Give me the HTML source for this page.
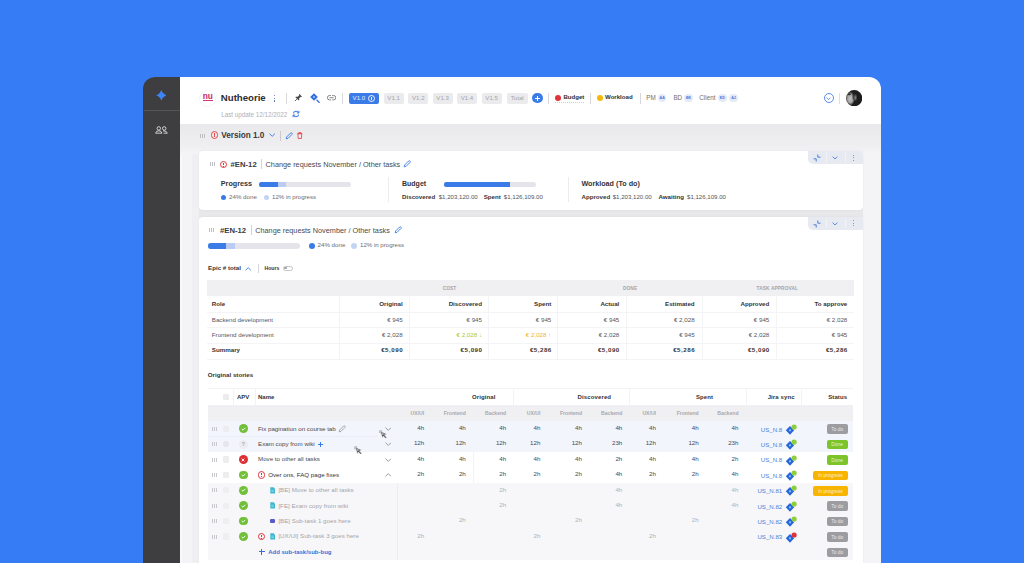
<!DOCTYPE html>
<html><head><meta charset="utf-8"><title>Nutheorie</title>
<style>
html,body{margin:0;padding:0;}
body{width:1024px;height:563px;overflow:hidden;position:relative;background:#367cf5;font-family:"Liberation Sans", Arial, sans-serif;}
.t{position:absolute;white-space:nowrap;}
.r{position:absolute;}
</style></head><body>
<div class="r" style="left:143.5px;top:76.6px;width:737.2px;height:500px;background:#ffffff;border-radius:12px 12px 0 0;"></div>
<div class="r" style="left:143.3px;top:76.6px;width:37px;height:500px;background:#3e3e40;border-radius:12px 0 0 0;"></div>
<div class="r" style="left:143.5px;top:110.3px;width:36.8px;height:1.2px;background:#555558;"></div>
<svg class="r" style="left:155.9px;top:90px" width="10.6" height="10.6" viewBox="0 0 10.6 10.6"><path d="M5.3 0 Q6.5 4.1 10.6 5.3 Q6.5 6.5 5.3 10.6 Q4.1 6.5 0 5.3 Q4.1 4.1 5.3 0Z" fill="#3d84f6"/></svg>
<svg class="r" style="left:155px;top:125.8px" width="13" height="8" viewBox="0 0 13 8"><g fill="none" stroke="#e6e6e6" stroke-width="0.85"><circle cx="3.8" cy="2.4" r="1.75"/><path d="M0.7 7.2 Q0.9 4.8 3.8 4.8 Q6.7 4.8 6.9 7.2Z"/><circle cx="9.2" cy="2.4" r="1.75"/><path d="M8 4.85 Q11.9 4.6 12.3 7.2 H8.6"/></g></svg>
<div class="r" style="left:180.3px;top:123.8px;width:700.4px;height:450px;background:#f4f4f6;"></div>
<div class="r" style="left:192px;top:150px;width:7px;height:420px;background:#f0f0f2;"></div>
<div class="r" style="left:180.3px;top:123.8px;width:2px;height:450px;background:#f8f8fa;"></div>
<div class="r" style="left:180.3px;top:123.8px;width:700.4px;height:30px;background:linear-gradient(#e9e9ec,#eeeef1 65%,#f4f4f6);"></div>
<div class="r" style="left:198.5px;top:89.5px;width:17px;height:17px;border-radius:50%;border:1px solid #f6f6f8;box-sizing:border-box"></div>
<div class="t" style="left:107.7px;width:200px;text-align:center;top:90px;font-size:8.3px;line-height:12px;font-weight:700;color:#c8296a;letter-spacing:-0.2px;">nu</div>
<div class="r" style="left:202.9px;top:99.9px;width:10.2px;height:1.15px;background:#d8337c;"></div>
<div class="t" style="left:220.8px;top:91px;font-size:9.65px;line-height:13px;font-weight:700;color:#2e2e30;">Nutheorie</div>
<div class="r" style="left:274.1px;top:94.75000000000001px;width:1.2px;height:1.2px;background:#4a62a8;border-radius:50%;"></div>
<div class="r" style="left:274.1px;top:97.60000000000001px;width:1.2px;height:1.2px;background:#4a62a8;border-radius:50%;"></div>
<div class="r" style="left:274.1px;top:100.45px;width:1.2px;height:1.2px;background:#4a62a8;border-radius:50%;"></div>
<div class="r" style="left:286.3px;top:92.5px;width:0.8px;height:11px;background:#d8d8dc;"></div>
<svg class="r" style="left:294.3px;top:94.2px" width="8" height="8" viewBox="0 0 8 8"><g transform="rotate(45 4 4)"><path d="M2.3 0.2 H5.7 V1.1 H5.1 V3.4 L6.4 4.7 V5.3 H1.6 V4.7 L2.9 3.4 V1.1 H2.3Z" fill="#4a4a4e"/><path d="M4 5.3 V8.3" stroke="#4a4a4e" stroke-width="0.8"/></g></svg>
<svg class="r" style="left:309.6px;top:92.8px" width="11" height="11" viewBox="0 0 11 11"><path d="M4 0.2 L7.8 4 L4 7.8 L0.2 4Z" fill="#2f6de0"/><circle cx="4" cy="4" r="1.1" fill="#9cc0ff"/><path d="M6.8 7 L9.3 9.5" stroke="#2f6de0" stroke-width="1.1" stroke-linecap="round"/></svg>
<svg class="r" style="left:326.8px;top:95.4px" width="9.2" height="5.6" viewBox="0 0 9.2 5.6"><path d="M3.6 0.5 H2.6 A2.1 2.1 0 0 0 2.6 4.9 H3.6 M5.6 0.5 H6.6 A2.1 2.1 0 0 1 6.6 4.9 H5.6 M2.9 2.7 H6.3" fill="none" stroke="#7d7d82" stroke-width="0.95" stroke-linecap="round"/></svg>
<div class="r" style="left:342.2px;top:92.5px;width:0.8px;height:11px;background:#d8d8dc;"></div>
<div class="r" style="left:348.6px;top:93px;width:30.4px;height:10.8px;background:#3a7be8;border-radius:2px;"></div>
<div class="t" style="left:352.6px;top:93px;font-size:6.1px;line-height:9px;font-weight:400;color:#e6eeff;">V1.0</div>
<div class="r" style="left:367.6px;top:94.5px;width:7px;height:7px;border-radius:50%;border:0.85px solid #eef3ff;box-sizing:border-box"></div>
<div class="r" style="left:370.7px;top:96.6px;width:0.8px;height:3px;background:#eef3ff;"></div>
<div class="r" style="left:383.6px;top:93px;width:20px;height:10.8px;background:#ebebee;border-radius:2px;"></div>
<div class="t" style="left:293.6px;width:200px;text-align:center;top:93px;font-size:6.1px;line-height:9px;font-weight:400;color:#a4a4aa;">V1.1</div>
<div class="r" style="left:408.3px;top:93px;width:20px;height:10.8px;background:#ebebee;border-radius:2px;"></div>
<div class="t" style="left:318.3px;width:200px;text-align:center;top:93px;font-size:6.1px;line-height:9px;font-weight:400;color:#a4a4aa;">V1.2</div>
<div class="r" style="left:432.6px;top:93px;width:20px;height:10.8px;background:#ebebee;border-radius:2px;"></div>
<div class="t" style="left:342.6px;width:200px;text-align:center;top:93px;font-size:6.1px;line-height:9px;font-weight:400;color:#a4a4aa;">V1.3</div>
<div class="r" style="left:457px;top:93px;width:20px;height:10.8px;background:#ebebee;border-radius:2px;"></div>
<div class="t" style="left:367px;width:200px;text-align:center;top:93px;font-size:6.1px;line-height:9px;font-weight:400;color:#a4a4aa;">V1.4</div>
<div class="r" style="left:481.6px;top:93px;width:20px;height:10.8px;background:#ebebee;border-radius:2px;"></div>
<div class="t" style="left:391.6px;width:200px;text-align:center;top:93px;font-size:6.1px;line-height:9px;font-weight:400;color:#a4a4aa;">V1.5</div>
<div class="r" style="left:506.5px;top:93px;width:21.5px;height:10.8px;background:#ebebee;border-radius:2px;"></div>
<div class="t" style="left:417.25px;width:200px;text-align:center;top:93px;font-size:6.1px;line-height:9px;font-weight:400;color:#a4a4aa;">Total</div>
<div class="r" style="left:532.15px;top:92.9px;width:10.4px;height:10.4px;border-radius:50%;background:#3a7be8"></div>
<div class="r" style="left:534.85px;top:97.6px;width:5px;height:1px;background:#fff;"></div>
<div class="r" style="left:536.85px;top:95.6px;width:1px;height:5px;background:#fff;"></div>
<div class="r" style="left:548.4px;top:92.5px;width:0.8px;height:11px;background:#d8d8dc;"></div>
<div class="r" style="left:554.6px;top:94.6px;width:6.4px;height:6.4px;border-radius:50%;background:#e0343a"></div>
<div class="t" style="left:563.4px;top:92px;font-size:6.1px;line-height:9px;font-weight:700;color:#2e2e30;">Budget</div>
<div class="r" style="left:555px;top:101.8px;width:29px;height:0;border-top:0.8px dotted #cfcfd4"></div>
<div class="r" style="left:590.2px;top:92.5px;width:0.8px;height:11px;background:#d8d8dc;"></div>
<div class="r" style="left:596.5px;top:94.6px;width:6.4px;height:6.4px;border-radius:50%;background:#f5b70a"></div>
<div class="t" style="left:605px;top:92px;font-size:6.1px;line-height:9px;font-weight:700;color:#2e2e30;">Workload</div>
<div class="r" style="left:640px;top:92.5px;width:0.8px;height:11px;background:#d8d8dc;"></div>
<div class="t" style="left:646.2px;top:93px;font-size:6.3px;line-height:9px;font-weight:400;color:#6f6f74;">PM</div>
<div class="r" style="left:657.9000000000001px;top:93.5px;width:8.6px;height:8.6px;border-radius:50%;background:#e4ebf8"></div>
<div class="t" style="left:562.2px;width:200px;text-align:center;top:95px;font-size:3.6px;line-height:6px;font-weight:700;color:#3f78dd;">AA</div>
<div class="t" style="left:673.4px;top:93px;font-size:6.3px;line-height:9px;font-weight:400;color:#6f6f74;">BD</div>
<div class="r" style="left:684.2px;top:93.5px;width:8.6px;height:8.6px;border-radius:50%;background:#e4ebf8"></div>
<div class="t" style="left:588.5px;width:200px;text-align:center;top:95px;font-size:3.6px;line-height:6px;font-weight:700;color:#3f78dd;">BK</div>
<div class="t" style="left:699.3px;top:93px;font-size:6.3px;line-height:9px;font-weight:400;color:#6f6f74;">Client</div>
<div class="r" style="left:718.0px;top:93.5px;width:8.6px;height:8.6px;border-radius:50%;background:#e4ebf8"></div>
<div class="t" style="left:622.3px;width:200px;text-align:center;top:95px;font-size:3.6px;line-height:6px;font-weight:700;color:#3f78dd;">ED</div>
<div class="r" style="left:729.2px;top:93.5px;width:8.6px;height:8.6px;border-radius:50%;background:#e4ebf8"></div>
<div class="t" style="left:633.5px;width:200px;text-align:center;top:95px;font-size:3.6px;line-height:6px;font-weight:700;color:#3f78dd;">AJ</div>
<div class="t" style="left:221.2px;top:110px;font-size:6.3px;line-height:9px;font-weight:400;color:#b0b0b5;">Last update 12/12/2022</div>
<svg class="r" style="left:291.6px;top:110px" width="8" height="8" viewBox="0 0 8 8"><path d="M1.3 3.3 A2.9 2.9 0 0 1 6.6 2.7 M6.7 4.7 A2.9 2.9 0 0 1 1.4 5.3" fill="none" stroke="#3a7be8" stroke-width="1.1"/><path d="M6.9 0.8 L6.9 3 L4.8 3" fill="none" stroke="#3a7be8" stroke-width="1"/><path d="M1.1 7.2 L1.1 5 L3.2 5" fill="none" stroke="#3a7be8" stroke-width="1"/></svg>
<div class="r" style="left:823.6px;top:93px;width:10.4px;height:10.4px;border-radius:50%;border:0.9px solid #5b8de8;box-sizing:border-box"></div>
<svg class="r" style="left:826.3px;top:96.6px" width="5" height="3.5" viewBox="0 0 5 3.5"><path d="M0.6 0.6 L2.5 2.6 L4.4 0.6" fill="none" stroke="#5b8de8" stroke-width="0.9"/></svg>
<div class="r" style="left:839.4px;top:92.5px;width:0.8px;height:11px;background:#e0e0e4;"></div>
<svg class="r" style="left:846.1px;top:89.7px" width="16.4" height="16.4" viewBox="0 0 16.4 16.4"><defs><radialGradient id="fa" cx="0.5" cy="0.5" r="0.5"><stop offset="0" stop-color="#c4c4c4"/><stop offset="0.6" stop-color="#a0a0a0"/><stop offset="1" stop-color="#a0a0a0" stop-opacity="0"/></radialGradient><radialGradient id="fb" cx="0.5" cy="0.5" r="0.5"><stop offset="0" stop-color="#8a8a8a"/><stop offset="1" stop-color="#8a8a8a" stop-opacity="0"/></radialGradient><clipPath id="cc"><circle cx="8.2" cy="8.2" r="8.1"/></clipPath></defs><g clip-path="url(#cc)"><rect width="16.4" height="16.4" fill="#1d1d1d"/><ellipse cx="4.3" cy="8.6" rx="4.6" ry="7" fill="url(#fa)"/><ellipse cx="9.4" cy="7.6" rx="2" ry="4" fill="url(#fb)"/><ellipse cx="3.4" cy="4.3" rx="1.5" ry="0.9" fill="#2a2a2a"/><ellipse cx="7.3" cy="6" rx="0.8" ry="4" fill="#2a2a2a" opacity="0.7"/></g></svg>
<div class="r" style="left:200.1px;top:133.5px;width:0.8px;height:4.0px;background:#bdbdc2;"></div>
<div class="r" style="left:201.9px;top:133.5px;width:0.8px;height:4.0px;background:#bdbdc2;"></div>
<div class="r" style="left:203.7px;top:133.5px;width:0.8px;height:4.0px;background:#bdbdc2;"></div>
<div class="r" style="left:210.7px;top:131.39999999999998px;width:7.6px;height:7.6px;border-radius:50%;border:0.85px solid #e2444c;box-sizing:border-box"></div>
<div class="r" style="left:214.1px;top:133.29999999999998px;width:0.8px;height:2.28px;background:#e2444c;"></div>
<div class="r" style="left:214.1px;top:136.26399999999998px;width:0.8px;height:0.8px;background:#e2444c;"></div>
<div class="t" style="left:221.2px;top:130px;font-size:8.2px;line-height:11px;font-weight:700;color:#3a3a3e;">Version 1.0</div>
<svg class="r" style="left:268.9px;top:133.3px" width="6.4" height="4" viewBox="0 0 6.4 4"><path d="M0.5 0.7 L3.2 3.3 L5.9 0.7" fill="none" stroke="#3a7be8" stroke-width="0.95"/></svg>
<div class="r" style="left:280.3px;top:130.5px;width:0.8px;height:10px;background:#c9c9ce;"></div>
<svg class="r" style="left:284.5px;top:131.5px" width="8" height="8" viewBox="0 0 8 8"><path d="M1.2 6.8 L1.6 5 L5.6 1 A0.9 0.9 0 0 1 6.9 1 L7 1.1 A0.9 0.9 0 0 1 7 2.4 L3 6.4Z" fill="none" stroke="#3a7be8" stroke-width="0.9" stroke-linejoin="round"/></svg>
<svg class="r" style="left:297.4px;top:132px" width="5.6" height="7" viewBox="0 0 5.6 7"><path d="M0.3 1.4 H5.3 M1.9 1.4 V0.45 H3.7 V1.4 M0.9 1.8 L1.2 6.5 H4.4 L4.7 1.8Z" fill="none" stroke="#e2444c" stroke-width="0.85" stroke-linejoin="round"/></svg>
<div class="r" style="left:199px;top:208px;width:664px;height:10px;background:#e8e8eb;"></div>
<div class="r" style="left:199px;top:150.8px;width:664px;height:58.8px;background:#ffffff;border-radius:4px;box-shadow:0 0 3px rgba(0,0,0,0.05);"></div>
<div class="r" style="left:199px;top:216.5px;width:664px;height:400px;background:#ffffff;border-radius:4px;box-shadow:0 0 3px rgba(0,0,0,0.05);"></div>
<div class="r" style="left:807.5px;top:150.8px;width:55.5px;height:13.7px;background:#e8eaf1;border-radius:0 4px 0 5px"></div>
<div class="r" style="left:826px;top:152.8px;width:0.7px;height:9.7px;background:#f3f4f8;"></div>
<div class="r" style="left:844.8px;top:152.8px;width:0.7px;height:9.7px;background:#f3f4f8;"></div>
<svg class="r" style="left:812.5px;top:153.8px" width="8" height="8" viewBox="0 0 8 8"><path d="M0.5 4.8 L3.2 4.8 L3.2 7.5 M7.5 3.2 L4.8 3.2 L4.8 0.5" fill="none" stroke="#4a7fe0" stroke-width="1"/></svg>
<svg class="r" style="left:832px;top:156.10000000000002px" width="6" height="3.8" viewBox="0 0 6 3.8"><path d="M0.6 0.6 L3 3 L5.4 0.6" fill="none" stroke="#4a7fe0" stroke-width="0.9"/></svg>
<div class="r" style="left:852.8px;top:154.65px;width:1.0px;height:1.0px;background:#5f7fc6;border-radius:50%;"></div>
<div class="r" style="left:852.8px;top:157.15px;width:1.0px;height:1.0px;background:#5f7fc6;border-radius:50%;"></div>
<div class="r" style="left:852.8px;top:159.65px;width:1.0px;height:1.0px;background:#5f7fc6;border-radius:50%;"></div>
<div class="r" style="left:807.5px;top:216.5px;width:55.5px;height:13.7px;background:#e8eaf1;border-radius:0 4px 0 5px"></div>
<div class="r" style="left:826px;top:218.5px;width:0.7px;height:9.7px;background:#f3f4f8;"></div>
<div class="r" style="left:844.8px;top:218.5px;width:0.7px;height:9.7px;background:#f3f4f8;"></div>
<svg class="r" style="left:812.5px;top:219.5px" width="8" height="8" viewBox="0 0 8 8"><path d="M0.5 4.8 L3.2 4.8 L3.2 7.5 M7.5 3.2 L4.8 3.2 L4.8 0.5" fill="none" stroke="#4a7fe0" stroke-width="1"/></svg>
<svg class="r" style="left:832px;top:221.8px" width="6" height="3.8" viewBox="0 0 6 3.8"><path d="M0.6 0.6 L3 3 L5.4 0.6" fill="none" stroke="#4a7fe0" stroke-width="0.9"/></svg>
<div class="r" style="left:852.8px;top:220.35px;width:1.0px;height:1.0px;background:#5f7fc6;border-radius:50%;"></div>
<div class="r" style="left:852.8px;top:222.85px;width:1.0px;height:1.0px;background:#5f7fc6;border-radius:50%;"></div>
<div class="r" style="left:852.8px;top:225.35px;width:1.0px;height:1.0px;background:#5f7fc6;border-radius:50%;"></div>
<div class="r" style="left:210.1px;top:162.4px;width:0.8px;height:4.0px;background:#bdbdc2;"></div>
<div class="r" style="left:211.9px;top:162.4px;width:0.8px;height:4.0px;background:#bdbdc2;"></div>
<div class="r" style="left:213.7px;top:162.4px;width:0.8px;height:4.0px;background:#bdbdc2;"></div>
<div class="r" style="left:220.15px;top:161.1px;width:7.2px;height:7.2px;border-radius:50%;border:0.85px solid #e0343a;box-sizing:border-box"></div>
<div class="r" style="left:223.35px;top:162.89999999999998px;width:0.8px;height:2.16px;background:#e0343a;"></div>
<div class="r" style="left:223.35px;top:165.708px;width:0.8px;height:0.8px;background:#e0343a;"></div>
<div class="t" style="left:230.6px;top:159px;font-size:7.7px;line-height:11px;font-weight:700;color:#3a3a3e;">#EN-12</div>
<div class="r" style="left:261.4px;top:159.3px;width:0.8px;height:10px;background:#d4d4d8;"></div>
<div class="t" style="left:265.6px;top:159px;font-size:7.3px;line-height:11px;font-weight:400;color:#4a4a50;">Change requests November / Other tasks</div>
<svg class="r" style="left:402.6px;top:160.2px" width="8" height="8" viewBox="0 0 8 8"><path d="M1.2 6.8 L1.6 5 L5.6 1 A0.9 0.9 0 0 1 6.9 1 L7 1.1 A0.9 0.9 0 0 1 7 2.4 L3 6.4Z" fill="none" stroke="#3a7be8" stroke-width="0.9" stroke-linejoin="round"/></svg>
<div class="t" style="left:220.8px;top:178px;font-size:7.2px;line-height:11px;font-weight:700;color:#333336;">Progress</div>
<div class="r" style="left:259px;top:181.5px;width:92px;height:5.4px;background:#e4e4ea;border-radius:2.7px;"></div>
<div class="r" style="left:259px;top:181.5px;width:27.4px;height:5.4px;background:#bccbf1;border-radius:2.7px 0 0 2.7px;"></div>
<div class="r" style="left:259px;top:181.5px;width:18.8px;height:5.4px;background:#3a7be8;border-radius:2.7px 0 0 2.7px;"></div>
<div class="r" style="left:220.79999999999998px;top:194.7px;width:5.6px;height:5.6px;border-radius:50%;background:#3a7be8"></div>
<div class="t" style="left:229px;top:192px;font-size:6.2px;line-height:9px;font-weight:400;color:#6c6c72;">24% done</div>
<div class="r" style="left:263.8px;top:194.7px;width:5.6px;height:5.6px;border-radius:50%;background:#c3d3f3"></div>
<div class="t" style="left:272px;top:192px;font-size:6.1px;line-height:9px;font-weight:400;color:#6c6c72;">12% in progress</div>
<div class="r" style="left:388px;top:177px;width:0.8px;height:25px;background:#ececf0;"></div>
<div class="t" style="left:402px;top:179px;font-size:7.0px;line-height:9px;font-weight:700;color:#333336;">Budget</div>
<div class="r" style="left:444px;top:181.5px;width:92px;height:5.4px;background:#e4e4ea;border-radius:2.7px;"></div>
<div class="r" style="left:444px;top:181.5px;width:65.6px;height:5.4px;background:#bccbf1;border-radius:2.7px 0 0 2.7px;"></div>
<div class="r" style="left:444px;top:181.5px;width:65.6px;height:5.4px;background:#3a7be8;border-radius:2.7px 0 0 2.7px;"></div>
<div class="t" style="left:402.1px;top:192px;font-size:6.15px;line-height:9px;font-weight:700;color:#333336;">Discovered</div>
<div class="t" style="left:438.7px;top:192px;font-size:6.1px;line-height:9px;font-weight:400;color:#55555b;">$1,203,120.00</div>
<div class="t" style="left:483.7px;top:192px;font-size:6.15px;line-height:9px;font-weight:700;color:#333336;">Spent</div>
<div class="t" style="left:503.8px;top:192px;font-size:6.1px;line-height:9px;font-weight:400;color:#55555b;">$1,126,109.00</div>
<div class="r" style="left:568.4px;top:177px;width:0.8px;height:25px;background:#ececf0;"></div>
<div class="t" style="left:581.4px;top:178px;font-size:7.2px;line-height:11px;font-weight:700;color:#333336;">Workload (To do)</div>
<div class="t" style="left:581.5px;top:192px;font-size:6.15px;line-height:9px;font-weight:700;color:#333336;">Approved</div>
<div class="t" style="left:612.7px;top:192px;font-size:6.1px;line-height:9px;font-weight:400;color:#55555b;">$1,203,120.00</div>
<div class="t" style="left:658.5px;top:192px;font-size:6.15px;line-height:9px;font-weight:700;color:#333336;">Awaiting</div>
<div class="t" style="left:687px;top:192px;font-size:6.1px;line-height:9px;font-weight:400;color:#55555b;">$1,126,109.00</div>
<div class="r" style="left:209.1px;top:228.2px;width:0.8px;height:4.0px;background:#bdbdc2;"></div>
<div class="r" style="left:210.9px;top:228.2px;width:0.8px;height:4.0px;background:#bdbdc2;"></div>
<div class="r" style="left:212.7px;top:228.2px;width:0.8px;height:4.0px;background:#bdbdc2;"></div>
<div class="t" style="left:220px;top:225px;font-size:7.7px;line-height:11px;font-weight:700;color:#3a3a3e;">#EN-12</div>
<div class="r" style="left:250.7px;top:225.2px;width:0.8px;height:10px;background:#d4d4d8;"></div>
<div class="t" style="left:255.2px;top:225px;font-size:7.3px;line-height:11px;font-weight:400;color:#4a4a50;">Change requests November / Other tasks</div>
<svg class="r" style="left:393.6px;top:226px" width="8" height="8" viewBox="0 0 8 8"><path d="M1.2 6.8 L1.6 5 L5.6 1 A0.9 0.9 0 0 1 6.9 1 L7 1.1 A0.9 0.9 0 0 1 7 2.4 L3 6.4Z" fill="none" stroke="#3a7be8" stroke-width="0.9" stroke-linejoin="round"/></svg>
<div class="r" style="left:207.5px;top:242.8px;width:92px;height:5.8px;background:#e4e4ea;border-radius:2.9px;"></div>
<div class="r" style="left:207.5px;top:242.8px;width:27.3px;height:5.8px;background:#bccbf1;border-radius:2.9px 0 0 2.9px;"></div>
<div class="r" style="left:207.5px;top:242.8px;width:18.7px;height:5.8px;background:#3a7be8;border-radius:2.9px 0 0 2.9px;"></div>
<div class="r" style="left:308.7px;top:242.6px;width:6px;height:6px;border-radius:50%;background:#3a7be8"></div>
<div class="t" style="left:317.5px;top:240px;font-size:6.2px;line-height:9px;font-weight:400;color:#6c6c72;">24% done</div>
<div class="r" style="left:351.2px;top:242.6px;width:6px;height:6px;border-radius:50%;background:#c3d3f3"></div>
<div class="t" style="left:360px;top:240px;font-size:6.1px;line-height:9px;font-weight:400;color:#6c6c72;">12% in progress</div>
<div class="t" style="left:208px;top:263px;font-size:6.2px;line-height:9px;font-weight:700;color:#333336;">Epic # total</div>
<svg class="r" style="left:244.9px;top:266.8px" width="6.4" height="4" viewBox="0 0 6.4 4"><path d="M0.5 3.3 L3.2 0.7 L5.9 3.3" fill="none" stroke="#3a7be8" stroke-width="0.9"/></svg>
<div class="r" style="left:258.2px;top:263.5px;width:0.8px;height:9px;background:#d4d4d8;"></div>
<div class="t" style="left:264.4px;top:264px;font-size:5.2px;line-height:8px;font-weight:700;color:#333336;">Hours</div>
<div class="r" style="left:282.7px;top:265.8px;width:10.5px;height:5.2px;border-radius:3px;border:0.8px solid #c4c4c9;box-sizing:border-box"></div>
<div class="r" style="left:284.3px;top:267.1px;width:2.4px;height:2.4px;border-radius:50%;background:#a0a0a6"></div>
<div class="r" style="left:207px;top:280.4px;width:647px;height:15.6px;background:#f0f0f3;"></div>
<div class="t" style="left:349.5px;width:200px;text-align:center;top:285px;font-size:4.8px;line-height:7px;font-weight:700;color:#a4a4aa;letter-spacing:0.1px;">COST</div>
<div class="t" style="left:530.1px;width:200px;text-align:center;top:285px;font-size:4.8px;line-height:7px;font-weight:700;color:#a4a4aa;letter-spacing:0.1px;">DONE</div>
<div class="t" style="left:677.3px;width:200px;text-align:center;top:285px;font-size:4.8px;line-height:7px;font-weight:700;color:#a4a4aa;letter-spacing:0.1px;">TASK APPROVAL</div>
<div class="r" style="left:339px;top:296px;width:0.8px;height:62.6px;background:#f4f4f6;"></div>
<div class="r" style="left:408.5px;top:296px;width:0.8px;height:62.6px;background:#f4f4f6;"></div>
<div class="r" style="left:488px;top:296px;width:0.8px;height:62.6px;background:#f4f4f6;"></div>
<div class="r" style="left:557px;top:296px;width:0.8px;height:62.6px;background:#f4f4f6;"></div>
<div class="r" style="left:626px;top:296px;width:0.8px;height:62.6px;background:#f4f4f6;"></div>
<div class="r" style="left:702px;top:296px;width:0.8px;height:62.6px;background:#f4f4f6;"></div>
<div class="r" style="left:776px;top:296px;width:0.8px;height:62.6px;background:#f4f4f6;"></div>
<div class="r" style="left:207px;top:311.7px;width:647px;height:0.8px;background:#f4f4f6;"></div>
<div class="r" style="left:207px;top:327.1px;width:647px;height:0.8px;background:#f4f4f6;"></div>
<div class="r" style="left:207px;top:342.5px;width:647px;height:0.8px;background:#f4f4f6;"></div>
<div class="r" style="left:207px;top:358.6px;width:647px;height:0.8px;background:#f4f4f6;"></div>
<div class="t" style="left:211.8px;top:299px;font-size:6.2px;line-height:9px;font-weight:700;color:#333336;">Role</div>
<div class="t" style="right:621.4px;top:299px;font-size:6.2px;line-height:9px;font-weight:700;color:#333336;">Original</div>
<div class="t" style="right:542.0px;top:299px;font-size:6.2px;line-height:9px;font-weight:700;color:#333336;">Discovered</div>
<div class="t" style="right:472.7px;top:299px;font-size:6.2px;line-height:9px;font-weight:700;color:#333336;">Spent</div>
<div class="t" style="right:404.7px;top:299px;font-size:6.2px;line-height:9px;font-weight:700;color:#333336;">Actual</div>
<div class="t" style="right:329.4px;top:299px;font-size:6.2px;line-height:9px;font-weight:700;color:#333336;">Estimated</div>
<div class="t" style="right:254.7px;top:299px;font-size:6.2px;line-height:9px;font-weight:700;color:#333336;">Approved</div>
<div class="t" style="right:176.7px;top:299px;font-size:6.2px;line-height:9px;font-weight:700;color:#333336;">To approve</div>
<div class="t" style="left:211.8px;top:315px;font-size:6.2px;line-height:9px;font-weight:400;color:#55555b;">Backend development</div>
<div class="t" style="right:621.4px;top:315px;font-size:6.2px;line-height:9px;font-weight:400;color:#55555b;">€ 945</div>
<div class="t" style="right:542.0px;top:315px;font-size:6.2px;line-height:9px;font-weight:400;color:#55555b;">€ 945</div>
<div class="t" style="right:472.7px;top:315px;font-size:6.2px;line-height:9px;font-weight:400;color:#55555b;">€ 945</div>
<div class="t" style="right:404.7px;top:315px;font-size:6.2px;line-height:9px;font-weight:400;color:#55555b;">€ 945</div>
<div class="t" style="right:329.4px;top:315px;font-size:6.2px;line-height:9px;font-weight:400;color:#55555b;">€ 2,028</div>
<div class="t" style="right:254.7px;top:315px;font-size:6.2px;line-height:9px;font-weight:400;color:#55555b;">€ 945</div>
<div class="t" style="right:176.7px;top:315px;font-size:6.2px;line-height:9px;font-weight:400;color:#55555b;">€ 2,028</div>
<div class="t" style="left:211.8px;top:330px;font-size:6.2px;line-height:9px;font-weight:400;color:#55555b;">Frontend development</div>
<div class="t" style="right:621.4px;top:330px;font-size:6.2px;line-height:9px;font-weight:400;color:#55555b;">€ 2,028</div>
<div class="t" style="right:542.0px;top:330px;font-size:6.2px;line-height:9px;font-weight:400;color:#55555b;"><span style="color:#a8c83a">€ 2,028 ↓</span></div>
<div class="t" style="right:472.7px;top:330px;font-size:6.2px;line-height:9px;font-weight:400;color:#55555b;"><span style="color:#f0b51c">€ 2,028 ↑</span></div>
<div class="t" style="right:404.7px;top:330px;font-size:6.2px;line-height:9px;font-weight:400;color:#55555b;">€ 2,028</div>
<div class="t" style="right:329.4px;top:330px;font-size:6.2px;line-height:9px;font-weight:400;color:#55555b;">€ 945</div>
<div class="t" style="right:254.7px;top:330px;font-size:6.2px;line-height:9px;font-weight:400;color:#55555b;">€ 2,028</div>
<div class="t" style="right:176.7px;top:330px;font-size:6.2px;line-height:9px;font-weight:400;color:#55555b;">€ 945</div>
<div class="t" style="left:211.8px;top:345px;font-size:6.2px;line-height:9px;font-weight:700;color:#333336;">Summary</div>
<div class="t" style="right:620.9px;top:345px;font-size:6.2px;line-height:9px;font-weight:700;color:#333336;letter-spacing:0.5px;">€5,090</div>
<div class="t" style="right:541.5px;top:345px;font-size:6.2px;line-height:9px;font-weight:700;color:#333336;letter-spacing:0.5px;">€5,090</div>
<div class="t" style="right:472.2px;top:345px;font-size:6.2px;line-height:9px;font-weight:700;color:#333336;letter-spacing:0.5px;">€5,286</div>
<div class="t" style="right:404.2px;top:345px;font-size:6.2px;line-height:9px;font-weight:700;color:#333336;letter-spacing:0.5px;">€5,090</div>
<div class="t" style="right:328.9px;top:345px;font-size:6.2px;line-height:9px;font-weight:700;color:#333336;letter-spacing:0.5px;">€5,286</div>
<div class="t" style="right:254.2px;top:345px;font-size:6.2px;line-height:9px;font-weight:700;color:#333336;letter-spacing:0.5px;">€5,090</div>
<div class="t" style="right:176.2px;top:345px;font-size:6.2px;line-height:9px;font-weight:700;color:#333336;letter-spacing:0.5px;">€5,286</div>
<div class="t" style="left:207.8px;top:370px;font-size:6.2px;line-height:9px;font-weight:700;color:#333336;">Original stories</div>
<div class="r" style="left:207.5px;top:388px;width:645.7px;height:0.8px;background:#f3f3f5;"></div>
<div class="r" style="left:207.5px;top:405px;width:645.7px;height:15.8px;background:#f0f0f3;"></div>
<div class="r" style="left:207.5px;top:421px;width:645.7px;height:30.8px;background:#f2f5fc;"></div>
<div class="r" style="left:207.5px;top:436.2px;width:170px;height:0.7px;background:#eaedf7;"></div>
<div class="r" style="left:207.5px;top:482.6px;width:645.7px;height:77.0px;background:#f7f7f9;"></div>
<div class="r" style="left:396.5px;top:482.6px;width:0.7px;height:77.0px;background:#eeeef1;"></div>
<div class="r" style="left:472.8px;top:451.8px;width:0.7px;height:30.8px;background:#f3f3f5;"></div>
<div class="r" style="left:222.8px;top:393.6px;width:6.4px;height:6.4px;background:#ececef;border-radius:1px;"></div>
<div class="t" style="left:237px;top:393px;font-size:6.0px;line-height:8px;font-weight:700;color:#333336;">APV</div>
<div class="t" style="left:258px;top:393px;font-size:6.0px;line-height:8px;font-weight:700;color:#333336;">Name</div>
<div class="t" style="left:383.75px;width:200px;text-align:center;top:393px;font-size:6.0px;line-height:8px;font-weight:700;color:#333336;letter-spacing:0.12px;">Original</div>
<div class="t" style="left:494.4px;width:200px;text-align:center;top:393px;font-size:6.0px;line-height:8px;font-weight:700;color:#333336;letter-spacing:0.12px;">Discovered</div>
<div class="t" style="left:604.6px;width:200px;text-align:center;top:393px;font-size:6.0px;line-height:8px;font-weight:700;color:#333336;letter-spacing:0.12px;">Spent</div>
<div class="t" style="left:681.2px;width:200px;text-align:center;top:393px;font-size:6.0px;line-height:8px;font-weight:700;color:#333336;letter-spacing:0.12px;">Jira sync</div>
<div class="t" style="right:176.8px;top:393px;font-size:6.0px;line-height:8px;font-weight:700;color:#333336;letter-spacing:0.12px;">Status</div>
<div class="r" style="left:233px;top:388px;width:0.7px;height:17px;background:#f3f3f5;"></div>
<div class="r" style="left:254.7px;top:388px;width:0.7px;height:17px;background:#f3f3f5;"></div>
<div class="r" style="left:513px;top:388px;width:0.7px;height:17px;background:#f3f3f5;"></div>
<div class="r" style="left:629px;top:388px;width:0.7px;height:17px;background:#f3f3f5;"></div>
<div class="r" style="left:746px;top:388px;width:0.7px;height:17px;background:#f3f3f5;"></div>
<div class="r" style="left:801px;top:388px;width:0.7px;height:17px;background:#f3f3f5;"></div>
<div class="t" style="right:599.8px;top:409px;font-size:5.1px;line-height:8px;font-weight:700;color:#a8a8ad;">UX/UI</div>
<div class="t" style="right:558.2px;top:409px;font-size:5.1px;line-height:8px;font-weight:700;color:#a8a8ad;">Frontend</div>
<div class="t" style="right:517.8px;top:409px;font-size:5.1px;line-height:8px;font-weight:700;color:#a8a8ad;">Backend</div>
<div class="t" style="right:483.6px;top:409px;font-size:5.1px;line-height:8px;font-weight:700;color:#a8a8ad;">UX/UI</div>
<div class="t" style="right:442px;top:409px;font-size:5.1px;line-height:8px;font-weight:700;color:#a8a8ad;">Frontend</div>
<div class="t" style="right:401.7px;top:409px;font-size:5.1px;line-height:8px;font-weight:700;color:#a8a8ad;">Backend</div>
<div class="t" style="right:368px;top:409px;font-size:5.1px;line-height:8px;font-weight:700;color:#a8a8ad;">UX/UI</div>
<div class="t" style="right:325.3px;top:409px;font-size:5.1px;line-height:8px;font-weight:700;color:#a8a8ad;">Frontend</div>
<div class="t" style="right:285.5px;top:409px;font-size:5.1px;line-height:8px;font-weight:700;color:#a8a8ad;">Backend</div>
<div class="r" style="left:212.1px;top:426.7px;width:0.8px;height:4.0px;background:#c9c9cd;"></div>
<div class="r" style="left:213.9px;top:426.7px;width:0.8px;height:4.0px;background:#c9c9cd;"></div>
<div class="r" style="left:215.7px;top:426.7px;width:0.8px;height:4.0px;background:#c9c9cd;"></div>
<div class="r" style="left:222.8px;top:425.5px;width:6.4px;height:6.4px;background:#ededf0;border-radius:1px;"></div>
<div class="r" style="left:238.9px;top:424.3px;width:8.8px;height:8.8px;border-radius:50%;background:#72c03a"></div>
<svg class="r" style="left:240.8px;top:426.7px" width="5" height="4" viewBox="0 0 5 4"><path d="M0.7 2 L2 3.2 L4.3 0.8" fill="none" stroke="#fff" stroke-width="0.9"/></svg>
<div class="t" style="left:258px;top:424px;font-size:6.2px;line-height:9px;font-weight:400;color:#4a4a4f;">Fix pagination on course tab</div>
<svg class="r" style="left:384.7px;top:426.7px" width="6.6" height="4" viewBox="0 0 6.6 4"><path d="M0.5 0.6 L3.3 3.4 L6.1 0.6" fill="none" stroke="#8a8a90" stroke-width="0.85"/></svg>
<div class="t" style="right:599.8px;top:423px;font-size:6.2px;line-height:9px;font-weight:400;color:#4a4a4f;">4h</div>
<div class="t" style="right:558.2px;top:423px;font-size:6.2px;line-height:9px;font-weight:400;color:#4a4a4f;">4h</div>
<div class="t" style="right:517.8px;top:423px;font-size:6.2px;line-height:9px;font-weight:400;color:#4a4a4f;">4h</div>
<div class="t" style="right:483.6px;top:423px;font-size:6.2px;line-height:9px;font-weight:400;color:#4a4a4f;">4h</div>
<div class="t" style="right:442px;top:423px;font-size:6.2px;line-height:9px;font-weight:400;color:#4a4a4f;">4h</div>
<div class="t" style="right:401.7px;top:423px;font-size:6.2px;line-height:9px;font-weight:400;color:#4a4a4f;">4h</div>
<div class="t" style="right:368px;top:423px;font-size:6.2px;line-height:9px;font-weight:400;color:#4a4a4f;">4h</div>
<div class="t" style="right:325.3px;top:423px;font-size:6.2px;line-height:9px;font-weight:400;color:#4a4a4f;">4h</div>
<div class="t" style="right:285.5px;top:423px;font-size:6.2px;line-height:9px;font-weight:400;color:#4a4a4f;">4h</div>
<div class="t" style="right:241.8px;top:425px;font-size:6.1px;line-height:9px;font-weight:400;color:#4a7ed8;">US_N.8</div>
<svg class="r" style="left:785.3px;top:423.7px" width="12" height="12" viewBox="0 0 12 12"><path d="M5 1.9 L9.2 6.3 L5 10.7 L0.8 6.3Z" fill="#2566d8"/><circle cx="5" cy="6.3" r="1.1" fill="#8ec0ff"/><circle cx="9.1" cy="3" r="2.6" fill="#8ccf3a"/></svg>
<div class="r" style="left:826.5999999999999px;top:424.34999999999997px;width:21.2px;height:9.7px;border-radius:2px;background:#9c9ca1"></div>
<div class="t" style="left:737.2px;width:200px;text-align:center;top:426px;font-size:4.9px;line-height:7px;font-weight:400;color:rgba(255,255,255,0.8);">To do</div>
<div class="r" style="left:212.1px;top:442.1px;width:0.8px;height:4.0px;background:#c9c9cd;"></div>
<div class="r" style="left:213.9px;top:442.1px;width:0.8px;height:4.0px;background:#c9c9cd;"></div>
<div class="r" style="left:215.7px;top:442.1px;width:0.8px;height:4.0px;background:#c9c9cd;"></div>
<div class="r" style="left:222.8px;top:440.90000000000003px;width:6.4px;height:6.4px;background:#e4e6ec;border-radius:50%;"></div>
<div class="r" style="left:238.8px;top:439.6px;width:9px;height:9px;border-radius:50%;background:#ebedf2"></div>
<div class="t" style="left:143.3px;width:200px;text-align:center;top:440px;font-size:5px;line-height:8px;font-weight:700;color:#9da1ab;">?</div>
<div class="t" style="left:258px;top:439px;font-size:6.2px;line-height:9px;font-weight:400;color:#4a4a4f;">Exam copy from wiki</div>
<svg class="r" style="left:384.7px;top:442.1px" width="6.6" height="4" viewBox="0 0 6.6 4"><path d="M0.5 0.6 L3.3 3.4 L6.1 0.6" fill="none" stroke="#8a8a90" stroke-width="0.85"/></svg>
<div class="t" style="right:599.8px;top:438px;font-size:6.2px;line-height:9px;font-weight:400;color:#4a4a4f;">12h</div>
<div class="t" style="right:558.2px;top:438px;font-size:6.2px;line-height:9px;font-weight:400;color:#4a4a4f;">12h</div>
<div class="t" style="right:517.8px;top:438px;font-size:6.2px;line-height:9px;font-weight:400;color:#4a4a4f;">12h</div>
<div class="t" style="right:483.6px;top:438px;font-size:6.2px;line-height:9px;font-weight:400;color:#4a4a4f;">12h</div>
<div class="t" style="right:442px;top:438px;font-size:6.2px;line-height:9px;font-weight:400;color:#4a4a4f;">12h</div>
<div class="t" style="right:401.7px;top:438px;font-size:6.2px;line-height:9px;font-weight:400;color:#4a4a4f;">23h</div>
<div class="t" style="right:368px;top:438px;font-size:6.2px;line-height:9px;font-weight:400;color:#4a4a4f;">12h</div>
<div class="t" style="right:325.3px;top:438px;font-size:6.2px;line-height:9px;font-weight:400;color:#4a4a4f;">12h</div>
<div class="t" style="right:285.5px;top:438px;font-size:6.2px;line-height:9px;font-weight:400;color:#4a4a4f;">23h</div>
<div class="t" style="right:241.8px;top:440px;font-size:6.1px;line-height:9px;font-weight:400;color:#4a7ed8;">US_N.8</div>
<svg class="r" style="left:785.3px;top:439.1px" width="12" height="12" viewBox="0 0 12 12"><path d="M5 1.9 L9.2 6.3 L5 10.7 L0.8 6.3Z" fill="#2566d8"/><circle cx="5" cy="6.3" r="1.1" fill="#8ec0ff"/><circle cx="9.1" cy="3" r="2.6" fill="#8ccf3a"/></svg>
<div class="r" style="left:826.5999999999999px;top:439.75px;width:21.2px;height:9.7px;border-radius:2px;background:#7dc42b"></div>
<div class="t" style="left:737.2px;width:200px;text-align:center;top:441px;font-size:4.9px;line-height:7px;font-weight:400;color:rgba(255,255,255,0.8);">Done</div>
<div class="r" style="left:212.1px;top:457.5px;width:0.8px;height:4.0px;background:#c9c9cd;"></div>
<div class="r" style="left:213.9px;top:457.5px;width:0.8px;height:4.0px;background:#c9c9cd;"></div>
<div class="r" style="left:215.7px;top:457.5px;width:0.8px;height:4.0px;background:#c9c9cd;"></div>
<div class="r" style="left:222.8px;top:456.3px;width:6.4px;height:6.4px;background:#ededf0;border-radius:1px;"></div>
<div class="r" style="left:238.8px;top:455.0px;width:9px;height:9px;border-radius:50%;background:#dc2f34"></div>
<svg class="r" style="left:241.3px;top:457.5px" width="4" height="4" viewBox="0 0 4 4"><path d="M0.6 0.6 L3.4 3.4 M3.4 0.6 L0.6 3.4" fill="none" stroke="#fff" stroke-width="0.9"/></svg>
<div class="t" style="left:258px;top:454px;font-size:6.2px;line-height:9px;font-weight:400;color:#4a4a4f;">Move to other all tasks</div>
<svg class="r" style="left:384.7px;top:457.5px" width="6.6" height="4" viewBox="0 0 6.6 4"><path d="M0.5 0.6 L3.3 3.4 L6.1 0.6" fill="none" stroke="#8a8a90" stroke-width="0.85"/></svg>
<div class="t" style="right:599.8px;top:454px;font-size:6.2px;line-height:9px;font-weight:400;color:#4a4a4f;">4h</div>
<div class="t" style="right:558.2px;top:454px;font-size:6.2px;line-height:9px;font-weight:400;color:#4a4a4f;">4h</div>
<div class="t" style="right:517.8px;top:454px;font-size:6.2px;line-height:9px;font-weight:400;color:#4a4a4f;">4h</div>
<div class="t" style="right:483.6px;top:454px;font-size:6.2px;line-height:9px;font-weight:400;color:#4a4a4f;">4h</div>
<div class="t" style="right:442px;top:454px;font-size:6.2px;line-height:9px;font-weight:400;color:#4a4a4f;">4h</div>
<div class="t" style="right:401.7px;top:454px;font-size:6.2px;line-height:9px;font-weight:400;color:#4a4a4f;">2h</div>
<div class="t" style="right:368px;top:454px;font-size:6.2px;line-height:9px;font-weight:400;color:#4a4a4f;">4h</div>
<div class="t" style="right:325.3px;top:454px;font-size:6.2px;line-height:9px;font-weight:400;color:#4a4a4f;">4h</div>
<div class="t" style="right:285.5px;top:454px;font-size:6.2px;line-height:9px;font-weight:400;color:#4a4a4f;">2h</div>
<div class="t" style="right:241.8px;top:455px;font-size:6.1px;line-height:9px;font-weight:400;color:#4a7ed8;">US_N.8</div>
<svg class="r" style="left:785.3px;top:454.5px" width="12" height="12" viewBox="0 0 12 12"><path d="M5 1.9 L9.2 6.3 L5 10.7 L0.8 6.3Z" fill="#2566d8"/><circle cx="5" cy="6.3" r="1.1" fill="#8ec0ff"/><circle cx="9.1" cy="3" r="2.6" fill="#8ccf3a"/></svg>
<div class="r" style="left:826.5999999999999px;top:455.15px;width:21.2px;height:9.7px;border-radius:2px;background:#7dc42b"></div>
<div class="t" style="left:737.2px;width:200px;text-align:center;top:457px;font-size:4.9px;line-height:7px;font-weight:400;color:rgba(255,255,255,0.8);">Done</div>
<div class="r" style="left:212.1px;top:472.9px;width:0.8px;height:4.0px;background:#c9c9cd;"></div>
<div class="r" style="left:213.9px;top:472.9px;width:0.8px;height:4.0px;background:#c9c9cd;"></div>
<div class="r" style="left:215.7px;top:472.9px;width:0.8px;height:4.0px;background:#c9c9cd;"></div>
<div class="r" style="left:222.8px;top:471.7px;width:6.4px;height:6.4px;background:#ededf0;border-radius:1px;"></div>
<div class="r" style="left:238.9px;top:470.5px;width:8.8px;height:8.8px;border-radius:50%;background:#72c03a"></div>
<svg class="r" style="left:240.8px;top:472.9px" width="5" height="4" viewBox="0 0 5 4"><path d="M0.7 2 L2 3.2 L4.3 0.8" fill="none" stroke="#fff" stroke-width="0.9"/></svg>
<div class="r" style="left:258.1px;top:471.2px;width:7.4px;height:7.4px;border-radius:50%;border:0.85px solid #e0343a;box-sizing:border-box"></div>
<div class="r" style="left:261.40000000000003px;top:473.04999999999995px;width:0.8px;height:2.22px;background:#e0343a;"></div>
<div class="r" style="left:261.40000000000003px;top:475.936px;width:0.8px;height:0.8px;background:#e0343a;"></div>
<div class="t" style="left:268.2px;top:470px;font-size:6.2px;line-height:9px;font-weight:400;color:#333336;">Over ons, FAQ page fixes</div>
<svg class="r" style="left:384.7px;top:472.9px" width="6.6" height="4" viewBox="0 0 6.6 4"><path d="M0.5 3.4 L3.3 0.6 L6.1 3.4" fill="none" stroke="#8a8a90" stroke-width="0.85"/></svg>
<div class="t" style="right:599.8px;top:469px;font-size:6.2px;line-height:9px;font-weight:400;color:#4a4a4f;">2h</div>
<div class="t" style="right:558.2px;top:469px;font-size:6.2px;line-height:9px;font-weight:400;color:#4a4a4f;">2h</div>
<div class="t" style="right:517.8px;top:469px;font-size:6.2px;line-height:9px;font-weight:400;color:#4a4a4f;">2h</div>
<div class="t" style="right:483.6px;top:469px;font-size:6.2px;line-height:9px;font-weight:400;color:#4a4a4f;">2h</div>
<div class="t" style="right:442px;top:469px;font-size:6.2px;line-height:9px;font-weight:400;color:#4a4a4f;">2h</div>
<div class="t" style="right:401.7px;top:469px;font-size:6.2px;line-height:9px;font-weight:400;color:#4a4a4f;">4h</div>
<div class="t" style="right:368px;top:469px;font-size:6.2px;line-height:9px;font-weight:400;color:#4a4a4f;">2h</div>
<div class="t" style="right:325.3px;top:469px;font-size:6.2px;line-height:9px;font-weight:400;color:#4a4a4f;">2h</div>
<div class="t" style="right:285.5px;top:469px;font-size:6.2px;line-height:9px;font-weight:400;color:#4a4a4f;">4h</div>
<div class="t" style="right:241.8px;top:471px;font-size:6.1px;line-height:9px;font-weight:400;color:#4a7ed8;">US_N.8</div>
<svg class="r" style="left:785.3px;top:469.9px" width="12" height="12" viewBox="0 0 12 12"><path d="M5 1.9 L9.2 6.3 L5 10.7 L0.8 6.3Z" fill="#2566d8"/><circle cx="5" cy="6.3" r="1.1" fill="#8ec0ff"/><circle cx="9.1" cy="3" r="2.6" fill="#8ccf3a"/></svg>
<div class="r" style="left:813.0px;top:470.54999999999995px;width:34.8px;height:9.7px;border-radius:2px;background:#f7b500"></div>
<div class="t" style="left:730.4px;width:200px;text-align:center;top:472px;font-size:4.9px;line-height:7px;font-weight:400;color:rgba(255,255,255,0.8);">In progress</div>
<div class="r" style="left:212.1px;top:488.3px;width:0.8px;height:4.0px;background:#c9c9cd;"></div>
<div class="r" style="left:213.9px;top:488.3px;width:0.8px;height:4.0px;background:#c9c9cd;"></div>
<div class="r" style="left:215.7px;top:488.3px;width:0.8px;height:4.0px;background:#c9c9cd;"></div>
<div class="r" style="left:222.8px;top:487.1px;width:6.4px;height:6.4px;background:#efeff1;border-radius:1px;"></div>
<div class="r" style="left:238.9px;top:485.90000000000003px;width:8.8px;height:8.8px;border-radius:50%;background:#72c03a"></div>
<svg class="r" style="left:240.8px;top:488.3px" width="5" height="4" viewBox="0 0 5 4"><path d="M0.7 2 L2 3.2 L4.3 0.8" fill="none" stroke="#fff" stroke-width="0.9"/></svg>
<svg class="r" style="left:269.6px;top:486.90000000000003px" width="5.4" height="6.8" viewBox="0 0 5.4 6.8"><path d="M0.3 0.3 H3.6 L5.1 1.8 V6.5 H0.3Z" fill="#3fb6cf"/><path d="M1.3 3.2 H4 M1.3 4.6 H4" stroke="#bfe9f2" stroke-width="0.5"/></svg>
<div class="t" style="left:278.4px;top:485px;font-size:6.2px;line-height:9px;font-weight:400;color:#a4a4a9;">[BE] Move to other all tasks</div>
<div class="t" style="right:517.8px;top:485px;font-size:6.2px;line-height:9px;font-weight:400;color:#b0b0b5;">2h</div>
<div class="t" style="right:401.7px;top:485px;font-size:6.2px;line-height:9px;font-weight:400;color:#b0b0b5;">4h</div>
<div class="t" style="right:285.5px;top:485px;font-size:6.2px;line-height:9px;font-weight:400;color:#b0b0b5;">4h</div>
<div class="t" style="right:241.8px;top:486px;font-size:6.1px;line-height:9px;font-weight:400;color:#4a7ed8;">US_N.81</div>
<svg class="r" style="left:785.3px;top:485.3px" width="12" height="12" viewBox="0 0 12 12"><path d="M5 1.9 L9.2 6.3 L5 10.7 L0.8 6.3Z" fill="#2566d8"/><circle cx="5" cy="6.3" r="1.1" fill="#8ec0ff"/><circle cx="9.1" cy="3" r="2.6" fill="#8ccf3a"/></svg>
<div class="r" style="left:813.0px;top:485.95px;width:34.8px;height:9.7px;border-radius:2px;background:#f7b500"></div>
<div class="t" style="left:730.4px;width:200px;text-align:center;top:488px;font-size:4.9px;line-height:7px;font-weight:400;color:rgba(255,255,255,0.8);">In progress</div>
<div class="r" style="left:212.1px;top:503.7px;width:0.8px;height:4.0px;background:#c9c9cd;"></div>
<div class="r" style="left:213.9px;top:503.7px;width:0.8px;height:4.0px;background:#c9c9cd;"></div>
<div class="r" style="left:215.7px;top:503.7px;width:0.8px;height:4.0px;background:#c9c9cd;"></div>
<div class="r" style="left:222.8px;top:502.5px;width:6.4px;height:6.4px;background:#efeff1;border-radius:1px;"></div>
<div class="r" style="left:238.9px;top:501.3px;width:8.8px;height:8.8px;border-radius:50%;background:#72c03a"></div>
<svg class="r" style="left:240.8px;top:503.7px" width="5" height="4" viewBox="0 0 5 4"><path d="M0.7 2 L2 3.2 L4.3 0.8" fill="none" stroke="#fff" stroke-width="0.9"/></svg>
<svg class="r" style="left:269.6px;top:502.3px" width="5.4" height="6.8" viewBox="0 0 5.4 6.8"><path d="M0.3 0.3 H3.6 L5.1 1.8 V6.5 H0.3Z" fill="#3fb6cf"/><path d="M1.3 3.2 H4 M1.3 4.6 H4" stroke="#bfe9f2" stroke-width="0.5"/></svg>
<div class="t" style="left:278.4px;top:501px;font-size:6.2px;line-height:9px;font-weight:400;color:#a4a4a9;">[FE] Exam copy from wiki</div>
<div class="t" style="right:517.8px;top:500px;font-size:6.2px;line-height:9px;font-weight:400;color:#b0b0b5;">2h</div>
<div class="t" style="right:401.7px;top:500px;font-size:6.2px;line-height:9px;font-weight:400;color:#b0b0b5;">4h</div>
<div class="t" style="right:285.5px;top:500px;font-size:6.2px;line-height:9px;font-weight:400;color:#b0b0b5;">4h</div>
<div class="t" style="right:241.8px;top:502px;font-size:6.1px;line-height:9px;font-weight:400;color:#4a7ed8;">US_N.82</div>
<svg class="r" style="left:785.3px;top:500.7px" width="12" height="12" viewBox="0 0 12 12"><path d="M5 1.9 L9.2 6.3 L5 10.7 L0.8 6.3Z" fill="#2566d8"/><circle cx="5" cy="6.3" r="1.1" fill="#8ec0ff"/><circle cx="9.1" cy="3" r="2.6" fill="#8ccf3a"/></svg>
<div class="r" style="left:826.5999999999999px;top:501.34999999999997px;width:21.2px;height:9.7px;border-radius:2px;background:#9c9ca1"></div>
<div class="t" style="left:737.2px;width:200px;text-align:center;top:503px;font-size:4.9px;line-height:7px;font-weight:400;color:rgba(255,255,255,0.8);">To do</div>
<div class="r" style="left:212.1px;top:519.1px;width:0.8px;height:4.0px;background:#c9c9cd;"></div>
<div class="r" style="left:213.9px;top:519.1px;width:0.8px;height:4.0px;background:#c9c9cd;"></div>
<div class="r" style="left:215.7px;top:519.1px;width:0.8px;height:4.0px;background:#c9c9cd;"></div>
<div class="r" style="left:222.8px;top:517.9px;width:6.4px;height:6.4px;background:#efeff1;border-radius:1px;"></div>
<div class="r" style="left:238.9px;top:516.7px;width:8.8px;height:8.8px;border-radius:50%;background:#72c03a"></div>
<svg class="r" style="left:240.8px;top:519.1px" width="5" height="4" viewBox="0 0 5 4"><path d="M0.7 2 L2 3.2 L4.3 0.8" fill="none" stroke="#fff" stroke-width="0.9"/></svg>
<div class="r" style="left:269.5px;top:519.3000000000001px;width:5.6px;height:3.8px;background:#5a5ac8;border-radius:1px;"></div>
<div class="t" style="left:278.4px;top:516px;font-size:6.2px;line-height:9px;font-weight:400;color:#a4a4a9;">[BE] Sub-task 1 goes here</div>
<div class="t" style="right:558.2px;top:515px;font-size:6.2px;line-height:9px;font-weight:400;color:#b0b0b5;">2h</div>
<div class="t" style="right:442px;top:515px;font-size:6.2px;line-height:9px;font-weight:400;color:#b0b0b5;">2h</div>
<div class="t" style="right:325.3px;top:515px;font-size:6.2px;line-height:9px;font-weight:400;color:#b0b0b5;">2h</div>
<div class="t" style="right:241.8px;top:517px;font-size:6.1px;line-height:9px;font-weight:400;color:#4a7ed8;">US_N.82</div>
<svg class="r" style="left:785.3px;top:516.1px" width="12" height="12" viewBox="0 0 12 12"><path d="M5 1.9 L9.2 6.3 L5 10.7 L0.8 6.3Z" fill="#2566d8"/><circle cx="5" cy="6.3" r="1.1" fill="#8ec0ff"/><circle cx="9.1" cy="3" r="2.6" fill="#8ccf3a"/></svg>
<div class="r" style="left:826.5999999999999px;top:516.75px;width:21.2px;height:9.7px;border-radius:2px;background:#9c9ca1"></div>
<div class="t" style="left:737.2px;width:200px;text-align:center;top:518px;font-size:4.9px;line-height:7px;font-weight:400;color:rgba(255,255,255,0.8);">To do</div>
<div class="r" style="left:212.1px;top:534.5px;width:0.8px;height:4.0px;background:#c9c9cd;"></div>
<div class="r" style="left:213.9px;top:534.5px;width:0.8px;height:4.0px;background:#c9c9cd;"></div>
<div class="r" style="left:215.7px;top:534.5px;width:0.8px;height:4.0px;background:#c9c9cd;"></div>
<div class="r" style="left:222.8px;top:533.3px;width:6.4px;height:6.4px;background:#efeff1;border-radius:1px;"></div>
<div class="r" style="left:238.9px;top:532.1px;width:8.8px;height:8.8px;border-radius:50%;background:#72c03a"></div>
<svg class="r" style="left:240.8px;top:534.5px" width="5" height="4" viewBox="0 0 5 4"><path d="M0.7 2 L2 3.2 L4.3 0.8" fill="none" stroke="#fff" stroke-width="0.9"/></svg>
<div class="r" style="left:258.0px;top:532.9px;width:7.2px;height:7.2px;border-radius:50%;border:0.85px solid #e0343a;box-sizing:border-box"></div>
<div class="r" style="left:261.20000000000005px;top:534.7px;width:0.8px;height:2.16px;background:#e0343a;"></div>
<div class="r" style="left:261.20000000000005px;top:537.508px;width:0.8px;height:0.8px;background:#e0343a;"></div>
<svg class="r" style="left:269.6px;top:533.1px" width="5.4" height="6.8" viewBox="0 0 5.4 6.8"><path d="M0.3 0.3 H3.6 L5.1 1.8 V6.5 H0.3Z" fill="#3fb6cf"/><path d="M1.3 3.2 H4 M1.3 4.6 H4" stroke="#bfe9f2" stroke-width="0.5"/></svg>
<div class="t" style="left:278.4px;top:531px;font-size:6.2px;line-height:9px;font-weight:400;color:#a4a4a9;">[UX/UI] Sub-task 3 goes here</div>
<div class="t" style="right:599.8px;top:531px;font-size:6.2px;line-height:9px;font-weight:400;color:#b0b0b5;">2h</div>
<div class="t" style="right:483.6px;top:531px;font-size:6.2px;line-height:9px;font-weight:400;color:#b0b0b5;">2h</div>
<div class="t" style="right:368px;top:531px;font-size:6.2px;line-height:9px;font-weight:400;color:#b0b0b5;">2h</div>
<div class="t" style="right:241.8px;top:532px;font-size:6.1px;line-height:9px;font-weight:400;color:#4a7ed8;">US_N.83</div>
<svg class="r" style="left:785.3px;top:531.5px" width="12" height="12" viewBox="0 0 12 12"><path d="M5 1.9 L9.2 6.3 L5 10.7 L0.8 6.3Z" fill="#2566d8"/><circle cx="5" cy="6.3" r="1.1" fill="#8ec0ff"/><circle cx="9.1" cy="3" r="2.6" fill="#e0343a"/></svg>
<div class="r" style="left:826.5999999999999px;top:532.15px;width:21.2px;height:9.7px;border-radius:2px;background:#9c9ca1"></div>
<div class="t" style="left:737.2px;width:200px;text-align:center;top:534px;font-size:4.9px;line-height:7px;font-weight:400;color:rgba(255,255,255,0.8);">To do</div>
<svg class="r" style="left:338px;top:424.8px" width="8" height="8" viewBox="0 0 8 8"><path d="M1.2 6.8 L1.6 5 L5.6 1 A0.9 0.9 0 0 1 6.9 1 L7 1.1 A0.9 0.9 0 0 1 7 2.4 L3 6.4Z" fill="none" stroke="#a0a0a6" stroke-width="0.9" stroke-linejoin="round"/></svg>
<div class="r" style="left:318.2px;top:443.65000000000003px;width:5px;height:0.9px;background:#3a7be8;"></div>
<div class="r" style="left:320.25px;top:441.6px;width:0.9px;height:5px;background:#3a7be8;"></div>
<div class="r" style="left:258.5px;top:551.4499999999999px;width:6.4px;height:0.9px;background:#3a6fd8;"></div>
<div class="r" style="left:261.25px;top:548.6999999999999px;width:0.9px;height:6.4px;background:#3a6fd8;"></div>
<div class="t" style="left:268.2px;top:548px;font-size:6.0px;line-height:8px;font-weight:700;color:#3a6fd8;">Add sub-task/sub-bug</div>
<div class="r" style="left:826.5999999999999px;top:547.55px;width:21.2px;height:9.7px;border-radius:2px;background:#9c9ca1"></div>
<div class="t" style="left:737.2px;width:200px;text-align:center;top:549px;font-size:4.9px;line-height:7px;font-weight:400;color:rgba(255,255,255,0.8);">To do</div>
<svg class="r" style="left:379.3px;top:430px" width="9" height="8.5" viewBox="0 0 9 8.5"><rect x="0.2" y="0.2" width="3" height="3" rx="0.6" fill="#a8a8ae" opacity="0.8"/><path d="M1.6 1.6 L7.6 3.9 L5.4 5 L7.8 7.4 L6.6 8.2 L4.3 5.9 L3.4 8Z" fill="#4f4f54" stroke="#f4f4f6" stroke-width="0.45" stroke-linejoin="round"/><path d="M3 3 L5.6 4.1 L4.2 4.6 L3.8 5.6Z" fill="#d8d8dc"/></svg>
<svg class="r" style="left:354px;top:445.6px" width="9" height="8.5" viewBox="0 0 9 8.5"><rect x="0.2" y="0.2" width="3" height="3" rx="0.6" fill="#a8a8ae" opacity="0.8"/><path d="M1.6 1.6 L7.6 3.9 L5.4 5 L7.8 7.4 L6.6 8.2 L4.3 5.9 L3.4 8Z" fill="#4f4f54" stroke="#f4f4f6" stroke-width="0.45" stroke-linejoin="round"/><path d="M3 3 L5.6 4.1 L4.2 4.6 L3.8 5.6Z" fill="#d8d8dc"/></svg>
</body></html>
